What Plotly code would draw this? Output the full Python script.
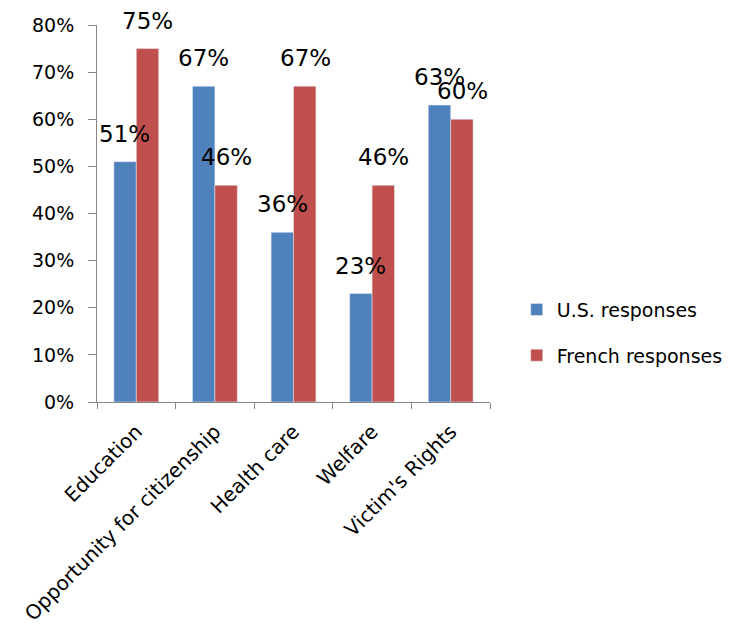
import plotly.graph_objects as go

categories = ["Education", "Opportunity for citizenship", "Health care", "Welfare", "Victim's Rights"]
us_values = [0.51, 0.67, 0.36, 0.23, 0.63]
fr_values = [0.75, 0.46, 0.67, 0.46, 0.60]
y_ticks = [0, 0.1, 0.2, 0.3, 0.4, 0.5, 0.6, 0.7, 0.8]
y_tick_labels = ["0%", "10%", "20%", "30%", "40%", "50%", "60%", "70%", "80%"]

FONT = "DejaVu Sans"
BLUE = "#4F81BD"
RED = "#C0504D"
AXIS = "#868686"

fig = go.Figure()
fig.add_trace(go.Bar(x=categories, y=us_values, name="U.S. responses",
                     marker=dict(color=BLUE), legendgroup="us"))
fig.add_trace(go.Bar(x=categories, y=fr_values, name="French responses",
                     marker=dict(color=RED), legendgroup="fr"))

annotations = []
for vals, shift in ((us_values, -11.5), (fr_values, 11.5)):
    for c, v in zip(categories, vals):
        annotations.append(dict(x=c, y=v, xref="x", yref="y", text=f"{round(v*100)}%",
                                showarrow=False, xshift=shift, yshift=13,
                                yanchor="bottom", xanchor="center",
                                font=dict(family=FONT, size=23, color="#000000")))

fig.update_layout(
    width=735, height=632,
    margin=dict(l=89, r=253, t=17, b=238, autoexpand=False),
    paper_bgcolor="white", plot_bgcolor="white",
    barmode="group", bargap=0.43, bargroupgap=0,
    font=dict(family=FONT, size=19, color="#000000"),
    annotations=annotations,
    legend=dict(x=1.068, xanchor="left", y=0.184, yanchor="middle",
                font=dict(family=FONT, size=19, color="#000000"),
                tracegroupgap=18, bgcolor="rgba(0,0,0,0)"),
    xaxis=dict(type="category", showline=True, linecolor=AXIS, linewidth=1,
               ticks="outside", tickson="boundaries", ticklen=6, tickcolor=AXIS,
               tickangle=-45, showgrid=False, ticklabelstandoff=9,
               tickfont=dict(family=FONT, size=20)),
    yaxis=dict(range=[0, 0.8], tickvals=y_ticks, ticktext=y_tick_labels,
               showline=True, linecolor=AXIS, linewidth=1, ticks="outside",
               ticklen=8, tickcolor=AXIS, showgrid=False, zeroline=False,
               ticklabelstandoff=10, tickfont=dict(family=FONT, size=19)),
)
fig.write_html("out.html")
